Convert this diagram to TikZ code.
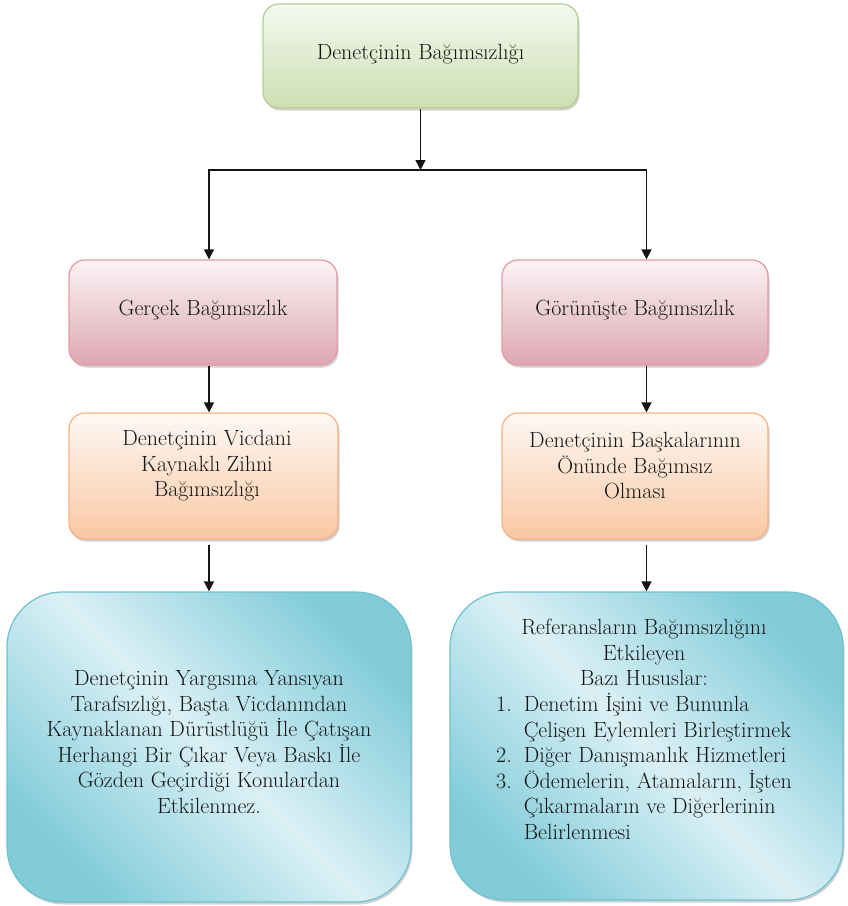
\documentclass[tikz,border=0pt]{standalone}
\usetikzlibrary{arrows.meta,shadows}

\definecolor{grnTop}{HTML}{F5F9EF}
\definecolor{grnBot}{HTML}{CCDFB2}
\definecolor{grnLine}{HTML}{B3CE8E}
\definecolor{pnkTop}{HTML}{FAF3F4}
\definecolor{pnkBot}{HTML}{DDA7B2}
\definecolor{pnkLine}{HTML}{E39AA6}
\definecolor{orgTop}{HTML}{FEF9F4}
\definecolor{orgBot}{HTML}{F9C7A3}
\definecolor{orgLine}{HTML}{F7B185}
\definecolor{bluDark}{HTML}{82CCDA}
\definecolor{bluLight}{HTML}{DAF0F5}
\definecolor{bluLine}{HTML}{70C1CF}
\definecolor{ink}{HTML}{141414}

\begin{document}
\begin{tikzpicture}[x=1pt,y=-1pt,
  box/.style={rectangle, rounded corners=16pt, line width=1.2pt, inner sep=0pt,
    drop shadow={shadow xshift=1.5pt, shadow yshift=-2.5pt, opacity=0.3, fill=black!60}},
  greenbox/.style={box, draw=grnLine, top color=grnTop, bottom color=grnBot},
  pinkbox/.style={box, draw=pnkLine, top color=pnkTop, bottom color=pnkBot},
  orangebox/.style={box, draw=orgLine, top color=orgTop, bottom color=orgBot},
  bluebox/.style={box, rounded corners=55pt, draw=bluLine,
    top color=bluDark, bottom color=bluDark, middle color=bluLight, shading angle=-45},
  txt/.style={align=center, font=\fontsize{22}{25.5}\selectfont, text=ink, inner sep=0pt},
  arr/.style={line width=1.4pt, draw=ink, -{Triangle[length=10pt,width=10pt]}}]

\useasboundingbox (0,0) rectangle (848,906);

% boxes
\node[greenbox, minimum width=315pt, minimum height=104pt] (top) at (420.5,56) {};
\node[pinkbox, minimum width=268pt, minimum height=105pt] (pl) at (203,312.5) {};
\node[pinkbox, minimum width=266pt, minimum height=105pt] (pr) at (635,312.5) {};
\node[orangebox, minimum width=269pt, minimum height=126pt] (ol) at (203.5,476) {};
\node[orangebox, minimum width=266pt, minimum height=126pt] (or) at (635,476) {};
\node[bluebox, minimum width=404pt, minimum height=310pt] (bl) at (209,747) {};
\node[bluebox, minimum width=393pt, minimum height=308pt] (br) at (646.5,746) {};

% texts
\node[txt] (ttop) at (420.5,54) {Denetçinin Bağımsızlığı};
\node[txt] (tpl) at (203,310) {Gerçek Bağımsızlık};
\node[txt] (tpr) at (635,310) {Görünüşte Bağımsızlık};
\node[txt] (tol) at (207,466) {Denetçinin Vicdani\\Kaynaklı Zihni\\Bağımsızlığı};
\node[txt] (tor) at (635,466) {Denetçinin Başkalarının\\Önünde Bağımsız\\Olması};
\node[txt] (tbl) at (209,742) {Denetçinin Yargısına Yansıyan\\Tarafsızlığı, Başta Vicdanından\\Kaynaklanan Dürüstlüğü İle Çatışan\\Herhangi Bir Çıkar Veya Baskı İle\\Gözden Geçirdiği Konulardan\\Etkilenmez.};
\node[txt] (tbr) at (644,732) {%
  \begin{tabular}{@{}l@{\hspace{12pt}}l@{}}
    \multicolumn{2}{c}{Referansların Bağımsızlığını}\\
    \multicolumn{2}{c}{Etkileyen}\\
    \multicolumn{2}{c}{Bazı Hususlar:}\\
    1. & Denetim İşini ve Bununla\\
       & Çelişen Eylemleri Birleştirmek\\
    2. & Diğer Danışmanlık Hizmetleri\\
    3. & Ödemelerin, Atamaların, İşten\\
       & Çıkarmaların ve Diğerlerinin\\
       & Belirlenmesi
  \end{tabular}};

% connectors
\coordinate (split) at (420.5,170);
\draw[arr] (top.south) -- (split);
\draw[arr] (split) -| (pl.north -| bl.north);
\draw[arr] (split) -| (pr.north -| br.north);
\draw[arr] (pl.south -| bl.north) -- (ol.north -| bl.north);
\draw[arr] (pr.south -| br.north) -- (or.north -| br.north);
\draw[arr] ([yshift=-5pt]ol.south -| bl.north) -- (bl.north);
\draw[arr] ([yshift=-5pt]or.south -| br.north) -- (br.north);
\end{tikzpicture}
\end{document}
